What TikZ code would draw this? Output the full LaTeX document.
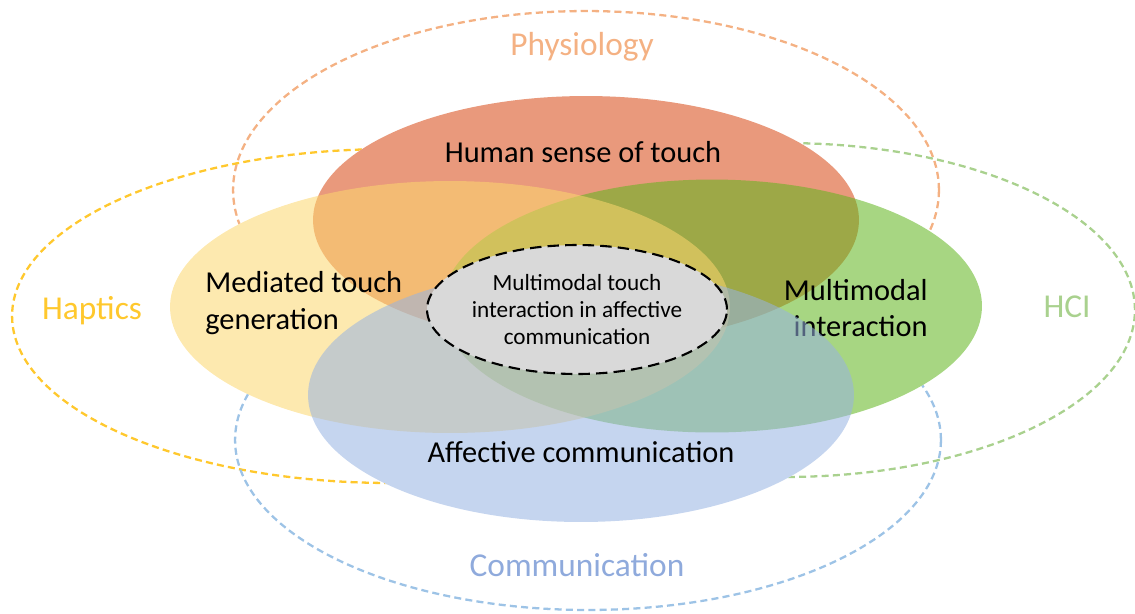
\documentclass[tikz,border=0pt]{standalone}
\usepackage{fontspec}
\setmainfont{Carlito}
\usetikzlibrary{arrows,shapes}
\definecolor{physio}{RGB}{244,177,131}
\definecolor{haptic}{RGB}{255,200,45}
\definecolor{hcigreen}{RGB}{169,209,142}
\definecolor{commblue}{RGB}{143,170,220}
\definecolor{commline}{RGB}{157,195,230}
\definecolor{touchfill}{RGB}{215,71,17}
\definecolor{mediafill}{RGB}{253,215,110}
\definecolor{multifill}{RGB}{95,182,28}
\definecolor{affectfill}{RGB}{151,179,226}
\definecolor{coregray}{RGB}{217,217,217}
\tikzstyle{field}=[ellipse, draw
,dash pattern=on 4pt off 2.4pt
,line width=1.3pt
,inner sep=0pt
]
\tikzstyle{area}=[ellipse, fill opacity=0.55, inner sep=0pt]
\tikzstyle{core}=[ellipse, draw, fill=coregray
,dash pattern=on 6.5pt off 3.5pt
,line width=1.2pt
,inner sep=0pt, align=center
,font=\fontsize{13.2}{15.3}\selectfont
]
\tikzstyle{fieldname}=[font=\fontsize{19}{23}\selectfont]
\tikzstyle{areaname}=[inner sep=0pt, font=\fontsize{17.3}{21}\selectfont]

\begin{document}
\begin{tikzpicture}[x=0.02cm, y=-0.02cm]
    \useasboundingbox (0,0) rectangle (1135,613);
    % First the four dashed fields
    \foreach \pos/\name/\w/\h/\col in {{(586,190)/physiology/14.12cm/7.16cm/physio},
        {(390,316)/haptics/15.12cm/6.68cm/haptic},
        {(785,310)/hci/14.0cm/6.68cm/hcigreen},
        {(588,440)/communication/14.12cm/6.8cm/commline}}
        \node[field, draw=\col, minimum width=\w, minimum height=\h] (\name) at \pos {};
    % White under the areas so the dashes stay hidden
    \foreach \pos/\rx/\ry in {{(586,220)/273/124}, {(450,307)/280/126},
        {(712,306)/270/126.5}, {(581,395)/273/127}}
        \fill[white] \pos ellipse [x radius=\rx, y radius=\ry];
    % Then the areas, each with its name
    \node[area, fill=touchfill, minimum width=10.92cm, minimum height=4.96cm] (touch) at (586,220) {};
    \node[areaname] (touchname) at (583,152) {Human sense of touch};
    \node[area, fill=multifill, minimum width=10.8cm, minimum height=5.06cm] (multi) at (712,306) {};
    \node[areaname, align=right, anchor=east] (multiname) at (928,308) {Multimodal\\interaction};
    \node[area, fill=mediafill, minimum width=11.2cm, minimum height=5.04cm] (media) at (450,307) {};
    \node[areaname, align=left, anchor=west] (medianame) at (205,303) {Mediated touch\\generation};
    \node[area, fill=affectfill, minimum width=10.92cm, minimum height=5.08cm] (affect) at (581,395) {};
    \node[areaname] (affectname) at (581,452) {Affective communication};
    % The shared core
    \node[core, minimum width=6cm, minimum height=2.58cm] (core) at (577,309.5)
        {Multimodal touch\\interaction in affective\\communication};
    % Field names
    \node[fieldname, text=physio] (physioname) at (582,47) {Physiology};
    \node[fieldname, text=haptic] (hapticname) at (92,311) {Haptics};
    \node[fieldname, text=hcigreen] (hciname) at (1067,307) {HCI};
    \node[fieldname, text=commblue] (commname) at (577,565) {Communication};
\end{tikzpicture}
\end{document}
